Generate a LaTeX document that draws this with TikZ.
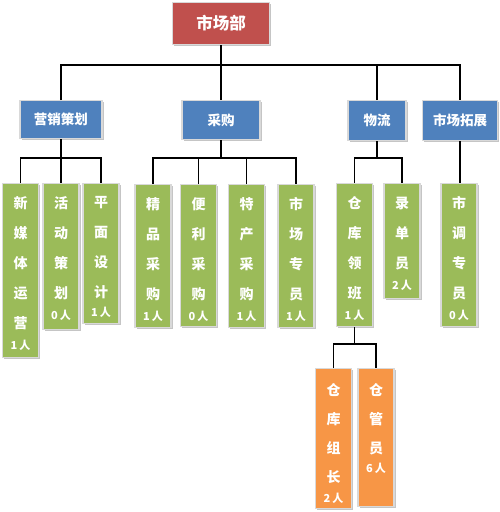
\documentclass[tikz,border=0pt]{standalone}
\usepackage{fontspec}
\newfontfamily\cjk{Noto Sans CJK SC}
\usetikzlibrary{shadows}
\definecolor{cred}{HTML}{C0504D}
\definecolor{cblue}{HTML}{4F81BD}
\definecolor{cgreen}{HTML}{9BBB59}
\definecolor{corange}{HTML}{F79646}
\newcommand{\cnt}[1]{{\fontsize{11}{12}\selectfont #1}}
\begin{document}
\begin{tikzpicture}[x=1pt,y=-1pt,
  box/.style={draw=white!85!black, line width=1.2pt, inner sep=0pt, anchor=north,
    drop shadow={shadow xshift=1.6pt,shadow yshift=-1.6pt,fill=black!45,opacity=0.5}},
  redbox/.style={box, fill=cred, text=white, font=\cjk\bfseries\fontsize{16.5}{18}\selectfont},
  bluebox/.style={box, fill=cblue, text=white, font=\cjk\bfseries\fontsize{13.5}{15}\selectfont},
  gbox/.style={box, fill=cgreen, minimum width=36pt},
  obox/.style={box, fill=corange, minimum width=36pt},
  vtext/.style={anchor=north, inner sep=0pt, text=white, align=center,
    font=\cjk\bfseries\fontsize{14}{30}\selectfont},
  vtextb/.style={vtext, font=\cjk\bfseries\fontsize{14}{29}\selectfont},
  conn/.style={draw=black, line width=1.3pt}]
\fill[white] (0,0) rectangle (500,512);
\useasboundingbox (0,0) rectangle (500,512);
% top
\node[redbox, minimum width=97pt, minimum height=42pt] (top) at (221,2) {市场部};
% level 2
\node[bluebox, minimum width=82pt, minimum height=38pt] (m1) at (61,100) {营销策划};
\node[bluebox, minimum width=78pt, minimum height=39pt] (m2) at (221,100) {采购};
\node[bluebox, minimum width=58pt, minimum height=40pt] (m3) at (377,100) {物流};
\node[bluebox, minimum width=75pt, minimum height=40pt] (m4) at (460,100) {市场拓展};
% level 3
\node[gbox, minimum height=174pt] (g1) at (20.5,183) {};
\node[vtext] (g1t) at ([yshift=-13.5pt]g1.north) {新\\媒\\体\\运\\营\\[-9pt]\cnt{1\,人}};
\node[gbox, minimum height=146pt] (g2) at (61,183) {};
\node[vtext] (g2t) at ([yshift=-13.5pt]g2.north) {活\\动\\策\\划\\[-9pt]\cnt{0\,人}};
\node[gbox, minimum height=140pt] (g3) at (101,183) {};
\node[vtext] (g3t) at ([yshift=-13.5pt]g3.north) {平\\面\\设\\计\\[-11pt]\cnt{1\,人}};
\node[gbox, minimum height=143pt] (g4) at (153,184) {};
\node[vtext] (g4t) at ([yshift=-13.5pt]g4.north) {精\\品\\采\\购\\[-9pt]\cnt{1\,人}};
\node[gbox, minimum height=142pt] (g5) at (198.5,184) {};
\node[vtext] (g5t) at ([yshift=-13.5pt]g5.north) {便\\利\\采\\购\\[-9pt]\cnt{0\,人}};
\node[gbox, minimum height=143pt] (g6) at (246.5,184) {};
\node[vtext] (g6t) at ([yshift=-13.5pt]g6.north) {特\\产\\采\\购\\[-9pt]\cnt{1\,人}};
\node[gbox, minimum height=143pt] (g7) at (296,184) {};
\node[vtext] (g7t) at ([yshift=-13.5pt]g7.north) {市\\场\\专\\员\\[-9pt]\cnt{1\,人}};
\node[gbox, minimum height=143pt] (g8) at (354.5,183) {};
\node[vtext] (g8t) at ([yshift=-13.5pt]g8.north) {仓\\库\\领\\班\\[-9pt]\cnt{1\,人}};
\node[gbox, minimum height=115pt] (g9) at (402,183) {};
\node[vtext] (g9t) at ([yshift=-13.5pt]g9.north) {录\\单\\员\\[-9pt]\cnt{2\,人}};
\node[gbox, minimum height=143pt] (g10) at (459,183) {};
\node[vtext] (g10t) at ([yshift=-13.5pt]g10.north) {市\\调\\专\\员\\[-9pt]\cnt{0\,人}};
% level 4
\node[obox, minimum height=140pt] (o1) at (333.5,368) {};
\node[vtextb] (o1t) at ([yshift=-15.5pt]o1.north) {仓\\库\\组\\长\\[-9pt]\cnt{2\,人}};
\node[obox, minimum height=138pt] (o2) at (376,368) {};
\node[vtextb] (o2t) at ([yshift=-15.5pt]o2.north) {仓\\管\\员\\[-10pt]\cnt{6\,人}};
% connectors
\coordinate (bus1) at (0,65);
\coordinate (bus2) at (0,158);
\coordinate (bus3) at (0,344);
\draw[conn] (top.south) -- (m2.north);
\draw[conn] (m1.north) |- (m4.north |- bus1) -- (m4.north);
\draw[conn] (m3.north) -- (m3.north |- bus1);
\draw[conn] (m1.south) -- (g2.north);
\draw[conn] (g1.north) |- (g3.north |- bus2) -- (g3.north);
\draw[conn] (m2.south) -- (m2.south |- bus2);
\draw[conn] (g4.north) |- (g7.north |- bus2) -- (g7.north);
\draw[conn] (g5.north) -- (g5.north |- bus2);
\draw[conn] (g6.north) -- (g6.north |- bus2);
\draw[conn] (m3.south) -- (m3.south |- bus2);
\draw[conn] (g8.north) |- (g9.north |- bus2) -- (g9.north);
\draw[conn] (m4.south) -- (m4.south |- g10.north);
\draw[conn] (g8.south) -- (g8.south |- bus3);
\draw[conn] (o1.north) |- (o2.north |- bus3) -- (o2.north);
\end{tikzpicture}
\end{document}
